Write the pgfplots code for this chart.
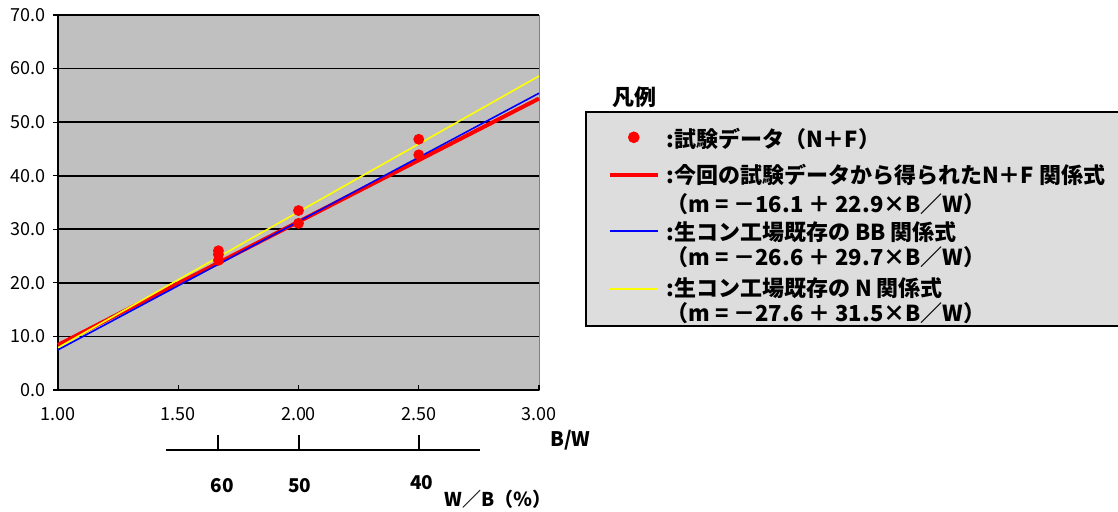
\documentclass[border=0pt]{standalone}
\usepackage{fontspec}
\setmainfont{Noto Sans CJK JP}
\usepackage{pgfplots}
\pgfplotsset{compat=1.18}
\definecolor{plotbg}{HTML}{C0C0C0}
\definecolor{leggray}{HTML}{DDDDDD}
\definecolor{ylw}{HTML}{FFFF00}
\newcommand{\ds}{\rule[-11pt]{0pt}{28pt}}
\newcommand{\rs}{\rule[-3pt]{0pt}{19.2pt}}
\newcommand{\ms}{\rule[-3pt]{0pt}{15.7pt}}
\newcommand{\ys}{\rule[-3pt]{0pt}{17.2pt}}
\newcommand{\es}{\rule[-3pt]{0pt}{13.7pt}}
\newcommand{\fs}{\rule[-3pt]{0pt}{16.2pt}}
\begin{document}
\begin{tikzpicture}
\path[use as bounding box] (0,0) rectangle (559pt,256pt);
\begin{axis}[
  at={(29pt,61pt)}, anchor=south west,
  scale only axis, width=240.5pt, height=187.5pt,
  xmin=1, xmax=3, ymin=0, ymax=70,
  xtick={1,1.5,2,2.5,3}, ytick={0,10,...,70},
  axis lines=left,
  axis line style={-, black, line width=1pt},
  axis background/.style={fill=plotbg, draw=gray},
  ymajorgrids, grid style={black, line width=0.8pt},
  xtick align=inside, ytick align=outside,
  major tick length=2.5pt,
  tick style={black, line width=0.6pt},
  clip=false,
  /pgf/number format/assume math mode=true,
  tick label style={font=\fontsize{9}{10}\selectfont},
  xticklabel style={/pgf/number format/fixed, /pgf/number format/fixed zerofill, /pgf/number format/precision=2, yshift=-5pt},
  yticklabel style={/pgf/number format/fixed, /pgf/number format/fixed zerofill, /pgf/number format/precision=1},
  legend image code/.code={\draw[mark repeat=2,mark phase=2,#1] plot coordinates {(0pt,0pt) (12pt,0pt) (24pt,0pt)};},
  legend style={at={(rel axis cs:1.0956,0.744)}, anchor=north west,
    fill=leggray, draw=black, line width=0.8pt,
    font=\bfseries\fontsize{11}{12}\selectfont,
    inner xsep=11pt, inner ysep=1pt, row sep=0pt,
    nodes={inner ysep=0pt, inner xsep=3.3pt, anchor=west}},
  legend cell align=left,
]
\addplot[only marks, mark=*, mark size=2.5pt, red, forget plot] coordinates {
 (1.667,26.0) (1.667,25.3) (1.667,24.2) (2,33.5) (2,31.1) (2.5,46.8) (2.5,43.9)};
\addplot[red, line width=2pt, forget plot] coordinates {(1,8.4) (3,54.4)};
\addplot[blue, line width=0.8pt, forget plot] coordinates {(1,7.5) (3,55.4)};
\addplot[ylw, line width=0.8pt, forget plot] coordinates {(1,7.9) (3,58.6)};

\addlegendimage{only marks, mark=*, mark size=2.5pt, draw=red, fill=red, yshift=-2.5pt}
\addlegendentry{\ds:試験データ（N＋F）}
\addlegendimage{draw=red, line width=2pt, yshift=-3.25pt}
\addlegendentry{\rs:今回の試験データから得られたN＋F 関係式}
\addlegendimage{empty legend}
\addlegendentry{\fs（m = －16.1 ＋ 22.9×B／W）}
\addlegendimage{draw=blue, line width=1pt, yshift=-0.6pt}
\addlegendentry{\ms:生コン工場既存の BB 関係式}
\addlegendimage{empty legend}
\addlegendentry{\es（m = －26.6 ＋ 29.7×B／W）}
\addlegendimage{draw=ylw, line width=1pt, yshift=-2.55pt}
\addlegendentry{\ys:生コン工場既存の N 関係式}
\addlegendimage{empty legend}
\addlegendentry{\es（m = －27.6 ＋ 31.5×B／W）}

\node[anchor=west, font=\bfseries\fontsize{11}{12}\selectfont, inner sep=0pt] at (rel axis cs:1.152,0.781) {凡例};

% secondary W/B scale
\draw[line width=1pt] (axis cs:1.449,-11.2) -- (axis cs:2.755,-11.2);
\draw[line width=1pt] (axis cs:1.667,-11.2) -- (axis cs:1.667,-8.4);
\draw[line width=1pt] (axis cs:2,-11.2) -- (axis cs:2,-8.4);
\draw[line width=1pt] (axis cs:2.5,-11.2) -- (axis cs:2.5,-8.4);
\node[font=\bfseries\fontsize{9.5}{11}\selectfont] at (axis cs:1.682,-17.8) {60};
\node[font=\bfseries\fontsize{9.5}{11}\selectfont] at (axis cs:2.006,-17.8) {50};
\node[font=\bfseries\fontsize{9.5}{11}\selectfont] at (axis cs:2.513,-17.2) {40};
\node[font=\bfseries\fontsize{9.5}{11}\selectfont] at (axis cs:2.83,-20.4) {W／B（％）};
\node[font=\bfseries\fontsize{10}{11}\selectfont] at (axis cs:3.13,-9.3) {B/W};
\end{axis}
\end{tikzpicture}
\end{document}
